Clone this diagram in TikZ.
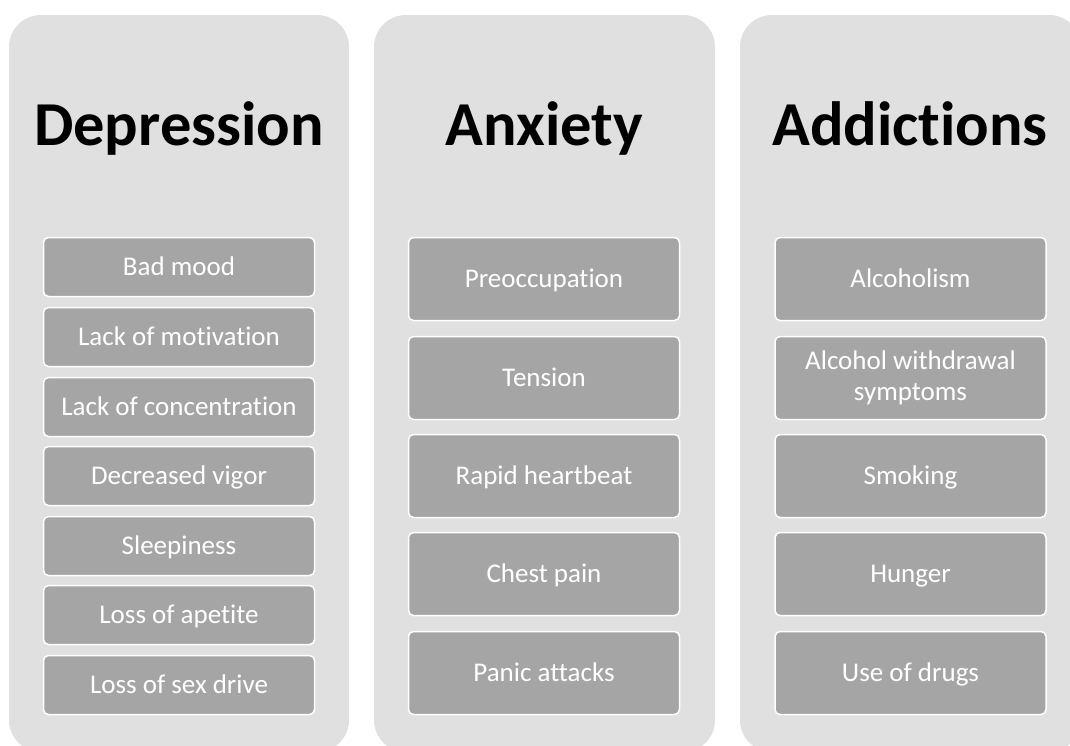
\documentclass[tikz,border=0pt]{standalone}
\usepackage{fontspec}
\setmainfont{Carlito}[Ligatures={NoCommon,NoContextual}]
\definecolor{panelgray}{HTML}{E0E0E0}
\definecolor{itemgray}{HTML}{A5A5A5}
\tikzset{
  panel/.style={fill=panelgray, draw=none, rounded corners=32pt},
  heading/.style={anchor=base, font=\fontsize{62.5}{70}\selectfont\bfseries, text=black, inner sep=0pt},
  itembox/.style={fill=itemgray, draw=white, line width=1.5pt, rounded corners=5pt,
    text=white, font=\fontsize{27}{31}\selectfont, align=center, inner sep=2pt,
    minimum width=271pt},
  oneline/.style={text height=17.5pt, text depth=0pt},
  shortitem/.style={itembox, oneline, minimum height=59pt},
  tallitem/.style={itembox, oneline, minimum height=83pt},
  twolineitem/.style={itembox, minimum height=83pt},
}
\begin{document}
\begin{tikzpicture}[x=1pt,y=-1pt]
\useasboundingbox (0,0) rectangle (1070,745);
\clip (0,0) rectangle (1070,745);
\fill[white] (0,0) rectangle (1070,745);
% panels
\path[panel] (9,15) rectangle (349,752);
\path[panel] (374,15) rectangle (715,752);
\path[panel] (740,15) rectangle (1081,752);
% headings
\node[heading] (hdep) at (179,145) {Depression};
\node[heading] (hanx) at (544.5,145) {Anxiety};
\node[heading] (hadd) at (910,145) {Addictions};
% depression items
\node[shortitem] (d1) at (179,267) {Bad mood};
\node[shortitem] (d2) at (179,337) {Lack of motivation};
\node[shortitem] (d3) at (179,407) {Lack of concentration};
\node[shortitem] (d4) at (179,476) {Decreased vigor};
\node[shortitem] (d5) at (179,546) {Sleepiness};
\node[shortitem] (d6) at (179,615) {Loss of apetite};
\node[shortitem] (d7) at (179,685) {Loss of sex drive};
% anxiety items
\node[tallitem] (a1) at (544,279) {Preoccupation};
\node[tallitem] (a2) at (544,378) {Tension};
\node[tallitem] (a3) at (544,476) {Rapid heartbeat};
\node[tallitem] (a4) at (544,574) {Chest pain};
\node[tallitem] (a5) at (544,673) {Panic attacks};
% addiction items
\node[tallitem] (c1) at (910.5,279) {Alcoholism};
\node[twolineitem] (c2) at (910.5,378) {Alcohol withdrawal\\symptoms};
\node[tallitem] (c3) at (910.5,476) {Smoking};
\node[tallitem] (c4) at (910.5,574) {Hunger};
\node[tallitem] (c5) at (910.5,673) {Use of drugs};
\end{tikzpicture}
\end{document}
